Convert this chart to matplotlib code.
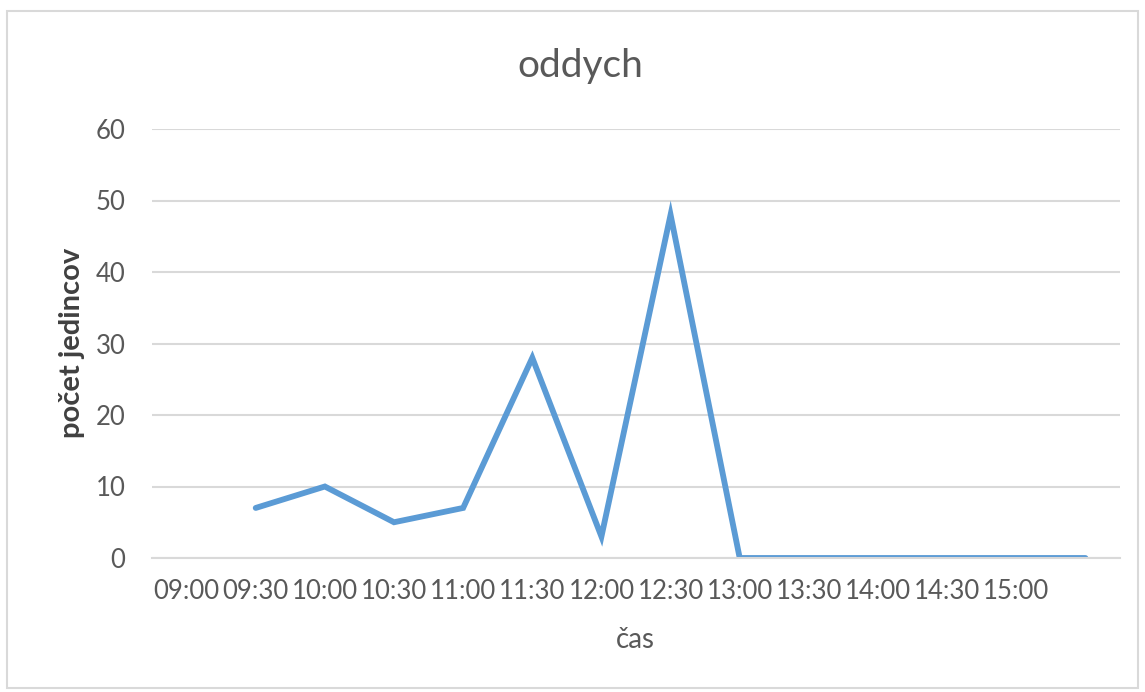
import numpy as np
import matplotlib.pyplot as plt
from matplotlib.patches import Rectangle

# kategórie (časy) a hodnoty
casy = ["09:00", "09:30", "10:00", "10:30", "11:00", "11:30", "12:00",
        "12:30", "13:00", "13:30", "14:00", "14:30", "15:00", ""]
pocet = [np.nan, 7, 10, 5, 7, 28, 3, 48, 0, 0, 0, 0, 0, 0]

TEXT = "#595959"
GRID = "#d9d9d9"
LINE = "#5b9bd5"
W, H = 1145, 692

plt.rcParams["font.family"] = ["Lato", "DejaVu Sans"]

fig = plt.figure(figsize=(W / 100, H / 100), dpi=100)
fig.patches.append(Rectangle((7 / W, 4 / H), 1131 / W, 677 / H,
                             transform=fig.transFigure, fill=False,
                             edgecolor=GRID, linewidth=1.5))

ax = fig.add_axes([152 / W, 1 - 558 / H, 968 / W, 429 / H])
x = np.arange(len(casy))
ax.plot(x, pocet, color=LINE, linewidth=4.2, solid_capstyle="round",
        solid_joinstyle="miter")

ax.set_xlim(-0.5, len(casy) - 0.5)
ax.set_ylim(0, 60)
ax.set_yticks(range(0, 61, 10))
ax.set_xticks(x)
ax.set_xticklabels(casy)
ax.yaxis.grid(True, color=GRID, linewidth=1.5)
ax.set_axisbelow(True)
for s in ax.spines.values():
    s.set_visible(False)
ax.spines["bottom"].set_visible(True)
ax.spines["bottom"].set_color(GRID)
ax.spines["bottom"].set_linewidth(1.5)
ax.tick_params(length=0, labelsize=18.5, labelcolor=TEXT)
ax.tick_params(axis="x", pad=15)
ax.tick_params(axis="y", pad=19)

# titulok a popisy osí
fig.text(580 / W, 1 - 66 / H, "oddych", fontsize=28, color=TEXT,
         ha="center", va="center")
fig.text(635 / W, 1 - 640 / H, "čas", fontsize=20, color=TEXT,
         ha="center", va="center")
fig.text(72 / W, 1 - 343 / H, "počet jedincov", fontsize=21,
         color="#404040", fontweight="bold", rotation=90,
         ha="center", va="center")

fig.savefig("out.png", dpi=100)
